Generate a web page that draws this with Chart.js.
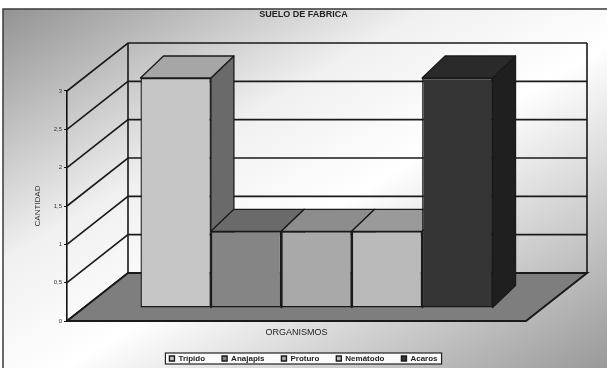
<!DOCTYPE html>
<html>
<head>
    <meta charset="utf-8">
    <title>Suelo de fabrica</title>
    <script src="https://cdn.jsdelivr.net/npm/chart.js"></script>
    <style>
        body { margin: 0; overflow: hidden; background: #fff; }
        .wrap { width: 607px; height: 368px; position: relative; }
    </style>
</head>
<body>
<div class="wrap"><canvas id="chart"></canvas></div>

<script>
    // datos
    const categories = [''];
    const seriesNames = ['Trípido', 'Anajapis', 'Proturo', 'Nemátodo', 'Acaros'];
    const seriesValues = [3, 1, 1, 1, 3];
    const yTickLabels = ['0', '0,5', '1', '1,5', '2', '2,5', '3'];

    // colores de cada serie (frente, techo, lado)
    const frontColors = ['#c6c6c6', '#858585', '#a9a9a9', '#bababa', '#353535'];
    const topColors = ['#a6a6a6', '#6a6a6a', '#8d8d8d', '#9a9a9a', '#2a2a2a'];
    const sideColors = ['#6a6a6a', '#555555', '#6e6e6e', '#777777', '#1f1f1f'];

    const FONT = "'Liberation Sans', Arial, sans-serif";
    const WALL = { x: 61, y: -48 };      // profundidad de paredes / piso
    const SHIFT = { x: 20, y: -13 };     // barras dentro del piso
    const BAR = { x: 23, y: -22 };       // profundidad de cada barra
    const LINE = '#1a1a1a';

    function poly(ctx, pts, fill) {
        ctx.beginPath();
        ctx.moveTo(pts[0][0], pts[0][1]);
        for (let i = 1; i < pts.length; i++) ctx.lineTo(pts[i][0], pts[i][1]);
        ctx.closePath();
        if (fill) { ctx.fillStyle = fill; ctx.fill(); }
        ctx.stroke();
    }

    // fondo, paredes, piso y marco de la leyenda
    const scene3d = {
        id: 'scene3d',
        beforeDraw(chart) {
            const ctx = chart.ctx, a = chart.chartArea, y = chart.scales.y;
            const W = chart.width, H = chart.height;
            ctx.save();
            ctx.fillStyle = '#fff';
            ctx.fillRect(0, 0, W, H);

            ctx.save();
            ctx.translate(3, 9);
            ctx.scale(W - 3, H - 9);
            const g = ctx.createLinearGradient(0, 0, 1, 1);
            g.addColorStop(0, '#939393');
            g.addColorStop(0.35, '#f0f0f0');
            g.addColorStop(0.55, '#ffffff');
            g.addColorStop(1, '#999999');
            ctx.fillStyle = g;
            ctx.fillRect(0, 0, 1, 1);
            ctx.restore();

            ctx.strokeStyle = '#3a3a3a';
            ctx.lineWidth = 1.5;
            ctx.beginPath();
            ctx.moveTo(3, H); ctx.lineTo(3, 9); ctx.lineTo(W, 9);
            ctx.stroke();

            const x0 = a.left, x1 = a.right;
            const y0 = y.getPixelForValue(0), yTop = y.getPixelForValue(3);

            // lineas de division en pared lateral y fondo
            ctx.strokeStyle = LINE;
            ctx.lineWidth = 1.6;
            y.ticks.forEach(t => {
                const py = y.getPixelForValue(t.value);
                ctx.beginPath();
                ctx.moveTo(x0, py);
                ctx.lineTo(x0 + WALL.x, py + WALL.y);
                ctx.lineTo(x1 + WALL.x, py + WALL.y);
                ctx.stroke();
            });
            ctx.beginPath();
            ctx.moveTo(x0 + WALL.x, y0 + WALL.y); ctx.lineTo(x0 + WALL.x, yTop + WALL.y);
            ctx.moveTo(x1 + WALL.x, y0 + WALL.y); ctx.lineTo(x1 + WALL.x, yTop + WALL.y);
            ctx.stroke();

            // piso
            ctx.lineWidth = 2;
            poly(ctx, [[x0, y0], [x0 + WALL.x, y0 + WALL.y], [x1 + WALL.x, y0 + WALL.y], [x1, y0]], '#7e7e7e');

            // caja de la leyenda
            const hb = chart.legend.legendHitBoxes;
            if (hb && hb.length) {
                const l = Math.min(...hb.map(b => b.left)) - 4;
                const r = Math.max(...hb.map(b => b.left + b.width)) + 4;
                const t = Math.min(...hb.map(b => b.top)) - 1.5;
                const b2 = Math.max(...hb.map(b => b.top + b.height)) + 1.5;
                ctx.fillStyle = '#fbfbfb';
                ctx.fillRect(l, t, r - l, b2 - t);
                ctx.lineWidth = 1.2;
                ctx.strokeStyle = '#222';
                ctx.strokeRect(l, t, r - l, b2 - t);
            }
            ctx.restore();
        },
        // caras de techo y lado, luego el frente lo dibuja Chart.js
        beforeDatasetsDraw(chart) {
            const ctx = chart.ctx;
            ctx.save();
            ctx.translate(SHIFT.x, SHIFT.y);
            const bars = [];
            chart.data.datasets.forEach((ds, i) => {
                chart.getDatasetMeta(i).data.forEach(el => {
                    const p = el.getProps(['x', 'y', 'base', 'width'], true);
                    bars.push({ i, l: p.x - p.width / 2, r: p.x + p.width / 2, t: p.y, b: p.base });
                });
            });
            ctx.strokeStyle = LINE;
            ctx.lineWidth = 1.3;
            ctx.lineJoin = 'round';
            bars.forEach(k => poly(ctx, [[k.r, k.t], [k.r + BAR.x, k.t + BAR.y], [k.r + BAR.x, k.b + BAR.y], [k.r, k.b]], sideColors[k.i]));
            bars.forEach(k => poly(ctx, [[k.l, k.t], [k.l + BAR.x, k.t + BAR.y], [k.r + BAR.x, k.t + BAR.y], [k.r, k.t]], topColors[k.i]));
        },
        afterDatasetsDraw(chart) {
            chart.ctx.restore();
        }
    };

    const datasets = seriesNames.map((name, i) => ({
        label: name,
        data: [seriesValues[i]],
        backgroundColor: frontColors[i],
        borderColor: LINE,
        borderWidth: 1.4,
        borderSkipped: false,
        categoryPercentage: 0.767,
        barPercentage: 1,
        clip: false
    }));

    new Chart(document.getElementById('chart'), {
        type: 'bar',
        data: { labels: categories, datasets: datasets },
        options: {
            responsive: true,
            maintainAspectRatio: false,
            animation: false,
            layout: { padding: { left: 0, right: 0, top: 0, bottom: 2 } },
            plugins: {
                title: {
                    display: true,
                    text: 'SUELO DE FABRICA',
                    color: '#222',
                    font: { family: FONT, size: 9, weight: 'bold' },
                    padding: { top: 9.6, bottom: 70.6 }
                },
                legend: {
                    position: 'bottom',
                    maxHeight: 28.5,
                    labels: {
                        color: '#222',
                        font: { family: FONT, size: 8, weight: 'bold' },
                        boxWidth: 5,
                        boxHeight: 5,
                        padding: 17
                    }
                },
                tooltip: { enabled: false }
            },
            scales: {
                x: {
                    grid: { display: false },
                    border: { display: false },
                    ticks: { display: false },
                    title: {
                        display: true,
                        text: 'ORGANISMOS',
                        color: '#222',
                        font: { family: FONT, size: 9 },
                        padding: { top: 0, bottom: 0 }
                    },
                    afterFit: s => { s.height = 16.5; }
                },
                y: {
                    min: 0,
                    max: 3,
                    ticks: {
                        stepSize: 0.5,
                        color: '#333',
                        font: { family: FONT, size: 6 },
                        padding: 2,
                        callback: (v, i) => yTickLabels[i]
                    },
                    grid: { drawOnChartArea: false, drawTicks: true, tickLength: 3, color: '#111', lineWidth: 1 },
                    border: { display: true, color: '#111', width: 1.6 },
                    title: {
                        display: true,
                        text: 'CANTIDAD',
                        color: '#333',
                        font: { family: FONT, size: 8 },
                        padding: { top: 33.2, bottom: 0 }
                    },
                    afterFit: s => { s.width = 67; }
                },
                y2: {
                    position: 'right',
                    grid: { display: false },
                    border: { display: false },
                    ticks: { display: false },
                    afterFit: s => { s.width = 81; }
                }
            }
        },
        plugins: [scene3d]
    });
</script>
</body>
</html>
